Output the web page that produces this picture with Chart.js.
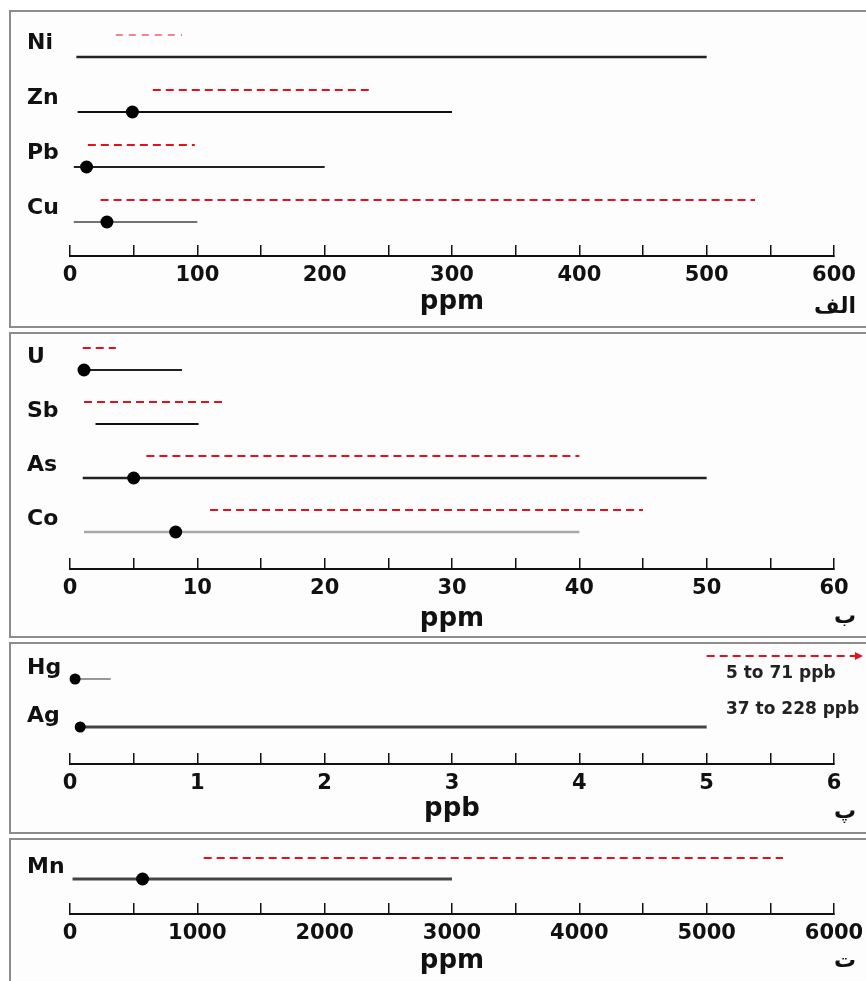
<!DOCTYPE html>
<html>
<head>
<meta charset="utf-8">
<script src="https://cdn.jsdelivr.net/npm/chart.js@4.4.0/dist/chart.umd.min.js"></script>
<style>
    body { margin: 0; width: 866px; height: 981px; overflow: hidden; position: relative; background: #fff; }
    .panel { position: absolute; left: 9px; width: 900px; box-sizing: border-box; border: 2px solid #8c8c8c; background: #fdfdfd; }
    canvas { position: absolute; left: 0; }
</style>
</head>
<body>
<script>
// ------------------------------ Datos ------------------------------

// Panel الف (ppm)
const elementsA = ["Ni", "Zn", "Pb", "Cu"];
const blackMinA = [5, 6, 3, 3];
const blackMaxA = [500, 300, 200, 100];
const dotA = [null, 49, 13, 29];
const redMinA = [36, 65, 14, 24];
const redMaxA = [88, 237, 98, 538];

// Panel ب (ppm)
const elementsB = ["U", "Sb", "As", "Co"];
const blackMinB = [1.1, 2, 1, 1.1];
const blackMaxB = [8.8, 10.1, 50, 40];
const dotB = [1.1, null, 5, 8.3];
const redMinB = [1, 1.1, 6, 11];
const redMaxB = [3.6, 12.1, 40, 45];

// Panel پ (ppb)
const elementsP = ["Hg", "Ag"];
const blackMinP = [0.04, 0.08];
const blackMaxP = [0.32, 5];
const dotP = [0.04, 0.08];
const redMinP = [5, 37];
const redMaxP = [71, 228];

// Panel ت (ppm)
const elementsT = ["Mn"];
const blackMinT = [20];
const blackMaxT = [3000];
const dotT = [570];
const redMinT = [1050];
const redMaxT = [5600];

// Ejes
const axisMax = [600, 60, 6, 6000];
const axisStep = [50, 5, 0.5, 500];
const axisUnits = ["ppm", "ppm", "ppb", "ppm"];
const panelLetters = ["الف", "ب", "پ", "ت"];

// ------------------------------ Estilos y posiciones ------------------------------
const RED = "#e3101e";
const FONT = "'DejaVu Sans', 'Liberation Sans', sans-serif";

const series = [
    { elements: elementsA, blackMin: blackMinA, blackMax: blackMaxA, dot: dotA, redMin: redMinA, redMax: redMaxA },
    { elements: elementsB, blackMin: blackMinB, blackMax: blackMaxB, dot: dotB, redMin: redMinB, redMax: redMaxB },
    { elements: elementsP, blackMin: blackMinP, blackMax: blackMaxP, dot: dotP, redMin: redMinP, redMax: redMaxP },
    { elements: elementsT, blackMin: blackMinT, blackMax: blackMaxT, dot: dotT, redMin: redMinT, redMax: redMaxT }
];

const looks = [
    { lineColors: ["#222", "#111", "#222", "#444"], lineWidths: [2.5, 2, 2, 1.3], redWidths: [1.2, 2.2, 2.2, 2.2], dotRadius: 6.5 },
    { lineColors: ["#222", "#111", "#222", "#a8a8a8"], lineWidths: [2, 2, 2.5, 2.5], redWidths: [2.2, 2.2, 2.2, 2.2], dotRadius: 6.5 },
    { lineColors: ["#333", "#444"], lineWidths: [1.2, 3], redWidths: [2, 2], dotRadius: 5.5 },
    { lineColors: ["#444"], lineWidths: [3], redWidths: [2], dotRadius: 6.5 }
];

const layout = [
    { boxTop: 10, boxHeight: 318, firstRow: 43, rowGap: 55, axisY: 256, titleY: 303, redShift: -8, blackShift: 14, letterShift: 5, noteShifts: [] },
    { boxTop: 332, boxHeight: 306, firstRow: 357, rowGap: 54, axisY: 569, titleY: 620, redShift: -9, blackShift: 13, letterShift: -2, noteShifts: [] },
    { boxTop: 642, boxHeight: 192, firstRow: 668, rowGap: 48, axisY: 764, titleY: 810, redShift: -12, blackShift: 11, letterShift: 3, noteShifts: [6, -6] },
    { boxTop: 838, boxHeight: 152, firstRow: 867, rowGap: 48, axisY: 914, titleY: 962, redShift: -9, blackShift: 12, letterShift: 0, noteShifts: [] }
];

// ------------------------------ Dibujo de cada panel ------------------------------
function drawPanel(index) {
    const p = layout[index];
    const s = series[index];
    const look = looks[index];
    const max = axisMax[index];
    const step = axisStep[index];
    const unit = axisUnits[index];

    const box = document.createElement("div");
    box.className = "panel";
    box.style.top = p.boxTop + "px";
    box.style.height = p.boxHeight + "px";
    document.body.appendChild(box);

    const canvasTop = p.boxTop + 2;
    const canvasHeight = Math.min(p.boxHeight - 4, 981 - canvasTop);
    const canvas = document.createElement("canvas");
    canvas.width = 866;
    canvas.height = canvasHeight;
    canvas.style.top = canvasTop + "px";
    document.body.appendChild(canvas);

    const areaHeight = p.axisY - canvasTop;
    const yMin = -(p.firstRow - canvasTop) / p.rowGap;
    const yMax = yMin + areaHeight / p.rowGap;
    const scaleHeight = p.titleY + 17 - p.axisY;
    const padBottom = canvasTop + canvasHeight - (p.titleY + 17);
    const limit = max * 1.03;

    const datasets = [];
    const notes = [];
    const arrows = [];
    s.elements.forEach((el, i) => {
        const yb = i + p.blackShift / p.rowGap;
        const yr = i + p.redShift / p.rowGap;

        datasets.push({
            data: [{ x: s.blackMin[i], y: yb }, { x: s.blackMax[i], y: yb }],
            borderColor: look.lineColors[i],
            borderWidth: look.lineWidths[i],
            pointRadius: 0,
            order: 2
        });

        // Rango en rojo; si se sale del eje termina en flecha
        const over = s.redMax[i] > max;
        if (s.redMin[i] <= max) {
            datasets.push({
                data: [{ x: s.redMin[i], y: yr }, { x: Math.min(s.redMax[i], limit), y: yr }],
                borderColor: RED,
                borderWidth: look.redWidths[i],
                borderDash: i === 0 && index === 0 ? [7, 6] : [8, 5],
                pointRadius: 0,
                clip: false,
                order: 1
            });
            if (over) arrows.push(yr);
        }
        if (over) {
            notes.push({ row: i, text: `${s.redMin[i]} to ${s.redMax[i]} ${unit}` });
        }

        if (s.dot[i] !== null) {
            datasets.push({
                data: [{ x: s.dot[i], y: yb }],
                showLine: false,
                pointRadius: look.dotRadius,
                pointBackgroundColor: "#000",
                pointBorderWidth: 0,
                clip: false,
                order: 0
            });
        }
    });

    // Textos extra: letra del panel, notas y puntas de flecha fuera de escala
    const extras = {
        id: "extras" + index,
        afterDraw(chart) {
            const ctx = chart.ctx;
            const xs = chart.scales.x;
            const ys = chart.scales.y;
            ctx.save();
            ctx.fillStyle = "#111";
            ctx.textBaseline = "middle";
            ctx.font = "bold 22px " + FONT;
            ctx.textAlign = "right";
            ctx.fillText(panelLetters[index], 856, xs.bottom - 17.6 + p.letterShift);

            ctx.font = "bold 17px " + FONT;
            ctx.fillStyle = "#222";
            ctx.textAlign = "left";
            notes.forEach((n, k) => {
                ctx.fillText(n.text, xs.right - 108, ys.getPixelForValue(n.row) + (p.noteShifts[k] || 0));
            });

            ctx.fillStyle = RED;
            arrows.forEach((yr) => {
                const ax = xs.getPixelForValue(limit);
                const ay = ys.getPixelForValue(yr);
                ctx.beginPath();
                ctx.moveTo(ax - 2, ay - 4);
                ctx.lineTo(ax + 6, ay);
                ctx.lineTo(ax - 2, ay + 4);
                ctx.closePath();
                ctx.fill();
            });
            ctx.restore();
        }
    };

    new Chart(canvas.getContext("2d"), {
        type: "line",
        data: { datasets: datasets },
        options: {
            responsive: false,
            animation: false,
            events: [],
            layout: { autoPadding: false, padding: { left: 27, right: 32, top: 0, bottom: padBottom } },
            plugins: {
                legend: { display: false },
                tooltip: { enabled: false }
            },
            scales: {
                x: {
                    type: "linear",
                    position: "bottom",
                    min: 0,
                    max: max,
                    afterFit: (scale) => {
                        scale.height = scaleHeight;
                        scale.paddingLeft = 0;
                        scale.paddingRight = 0;
                    },
                    border: { display: true, color: "#111", width: 2 },
                    grid: { drawOnChartArea: false, drawTicks: true, tickLength: -11, color: "#111", lineWidth: 1.5 },
                    ticks: {
                        stepSize: step,
                        maxTicksLimit: 20,
                        autoSkip: false,
                        maxRotation: 0,
                        padding: 18,
                        color: "#111",
                        font: { family: FONT, size: 21, weight: "bold" },
                        callback: (v) => {
                            const k = v / (2 * step);
                            return Math.abs(k - Math.round(k)) < 1e-6 ? String(v) : "";
                        }
                    },
                    title: {
                        display: true,
                        text: unit,
                        color: "#111",
                        font: { family: FONT, size: 26, weight: "bold" },
                        padding: { top: 0, bottom: 2 }
                    }
                },
                y: {
                    type: "linear",
                    reverse: true,
                    min: yMin,
                    max: yMax,
                    afterFit: (scale) => {
                        scale.width = 43;
                        scale.paddingTop = 0;
                        scale.paddingBottom = 0;
                    },
                    afterBuildTicks: (scale) => {
                        scale.ticks = s.elements.map((e, i) => ({ value: i }));
                    },
                    border: { display: false },
                    grid: { display: false },
                    ticks: {
                        autoSkip: false,
                        crossAlign: "far",
                        padding: 0,
                        color: "#111",
                        font: { family: FONT, size: 22, weight: "bold" },
                        callback: (v) => s.elements[v]
                    }
                }
            }
        },
        plugins: [extras]
    });
}

document.addEventListener("DOMContentLoaded", () => {
    for (let i = 0; i < series.length; i++) {
        drawPanel(i);
    }
});
</script>
</body>
</html>
